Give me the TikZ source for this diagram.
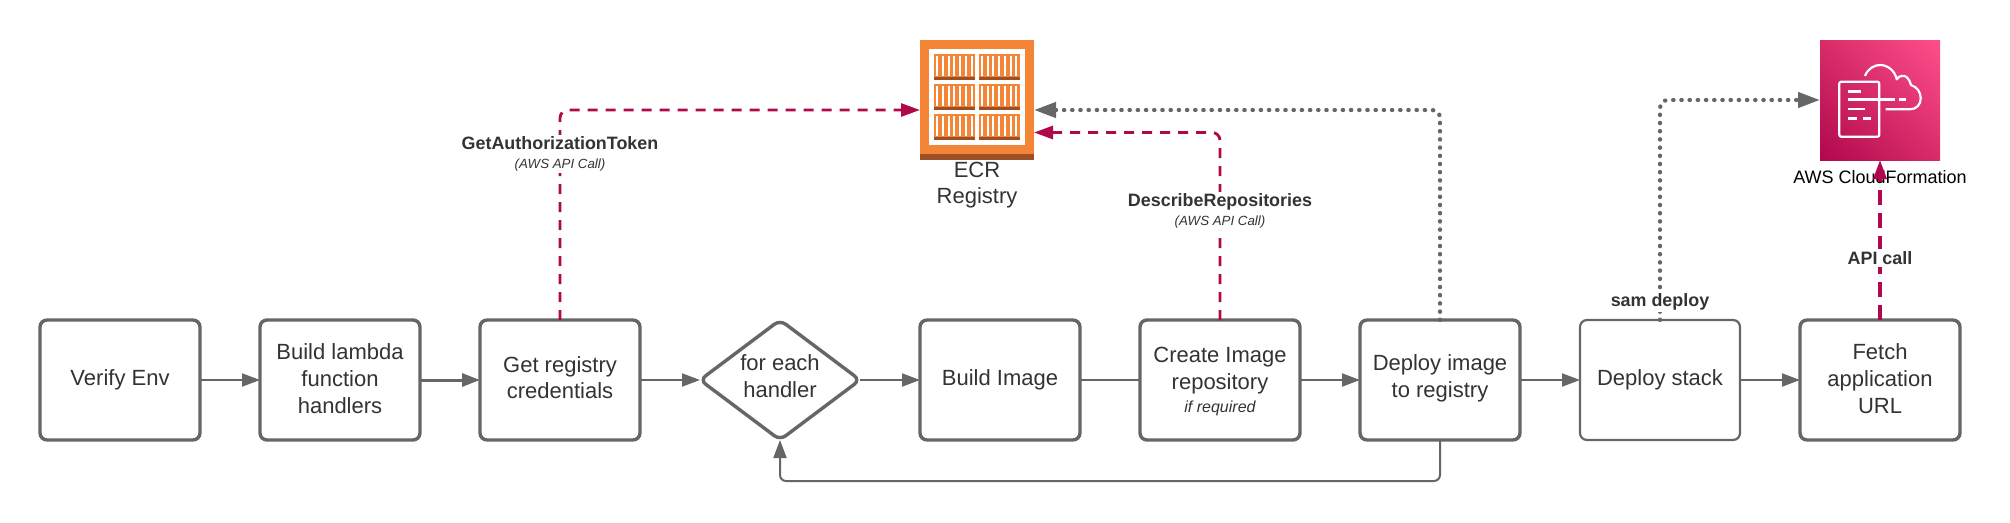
\documentclass[tikz,border=0pt]{standalone}
\usepackage{fontspec}
\setmainfont{Liberation Sans}
\usetikzlibrary{arrows.meta,shapes.geometric,shadings}
\definecolor{boxgray}{HTML}{666666}
\definecolor{inkgray}{HTML}{333333}
\definecolor{apired}{HTML}{B0084D}
\definecolor{ecrorange}{HTML}{F58536}
\definecolor{ecrbrown}{HTML}{9D5025}
\definecolor{cfdark}{HTML}{B0084D}
\definecolor{cfmid}{HTML}{D82C69}
\definecolor{cflight}{HTML}{FF4F8B}
\tikzset{
  flowbox/.style={draw=boxgray,line width=3.4pt,rounded corners=7pt,fill=white,minimum width=160pt,
    minimum height=120pt,inner sep=0pt,outer sep=0pt,align=center,text=inkgray,font=\fontsize{22}{26.7}\selectfont},
  flowdiamond/.style={flowbox,diamond,aspect=1.333,minimum width=160pt,minimum height=120pt},
  flowline/.style={draw=boxgray,line width=2pt,rounded corners=6pt},
  flowarrow/.style={flowline,-{Triangle[length=18pt,width=13pt]}},
  apiarrow/.style={draw=apired,line width=2.8pt,rounded corners=8pt,dash pattern=on 10pt off 8pt,
    -{Triangle[length=19pt,width=13pt]}},
  samearrow/.style={draw=boxgray,line width=4.2pt,rounded corners=8pt,line cap=round,dash pattern=on 0.4pt off 7.8pt,
    -{Triangle[length=22pt,width=15pt]}},
  calllabel/.style={fill=white,inner xsep=1pt,inner ysep=2pt,align=center,text=inkgray,
    font=\fontsize{17.9}{19}\selectfont\bfseries},
  iconlabel/.style={align=center,inner sep=0pt}
}
\newcommand{\callnote}[1]{{\fontsize{13.3}{19}\selectfont\itshape\mdseries #1}}
\begin{document}
\begin{tikzpicture}[x=1pt,y=-1pt]
  \useasboundingbox (0,0) rectangle (2010,522);
  % main row of steps
  \node[flowbox] (verifyenv) at (120,380) {Verify Env};
  \node[flowbox,text depth=3pt] (buildlambda) at (340,380) {Build lambda\\function\\handlers};
  \node[flowbox,text depth=5pt] (getcreds) at (560,380) {Get registry\\credentials};
  \node[flowdiamond] (eachhandler) at (780,380) {};
  \node[inner sep=0pt,align=center,text=inkgray,font=\fontsize{22}{26.7}\selectfont] (eachlabel) at (780,376) {for each\\handler};
  \node[flowbox] (buildimage) at (1000,380) {Build Image};
  \node[flowbox,text depth=0pt] (createrepo) at (1220,380) {Create Image\\repository\\[-3pt]{\fontsize{16}{19}\selectfont\itshape if required}};
  \node[flowbox,text depth=8pt] (deployimage) at (1440,380) {Deploy image\\to registry};
  \node[flowbox,line width=2.2pt] (deploystack) at (1660,380) {Deploy stack};
  \node[flowbox,text depth=3pt] (fetchurl) at (1880,380) {Fetch\\application\\URL};
  % ECR icon
  \node[fill=ecrorange,minimum width=114pt,minimum height=120pt,inner sep=0pt,outer sep=0pt] (ecr) at (977,100) {};
  \fill[ecrbrown] (920,154) rectangle (1034,160);
  \fill[white] (929,49) rectangle (1025,145);
  \foreach \y in {54,84,114}{%
    \foreach \x in {934.3,979}{%
      \fill[ecrorange] (\x,\y) rectangle ++(40.5,26);
      \fill[ecrbrown] (\x,\y+22.5) rectangle ++(40.5,3.5);
      \foreach \s in {3,8.7,14.4,20.1,25.8,31.5,37.2}{
        \fill[white] (\x+\s-1,\y+2) rectangle (\x+\s+1,\y+21.5);
      }
    }
  }
  \node[iconlabel,text=inkgray,font=\fontsize{22}{26}\selectfont] (ecrlabel) at (977,185.5) {ECR\\Registry};
  % CloudFormation icon
  \node[minimum size=120pt,inner sep=0pt,outer sep=0pt,lower left=cfdark,upper right=cflight,
    lower right=cfmid,upper left=cfmid] (cloudformation) at (1880,100) {};
  \draw[white,line width=2.2pt,rounded corners=2pt] (1879.3,90) |- (1839.3,81.7) |- (1879.3,136.7) -- (1879.3,90);
  \draw[white,line width=2.6pt] (1848,91.7) -- (1860.7,91.7)
    (1848,99.3) -- (1895,99.3) (1899.3,99.3) -- (1906,99.3)
    (1848,109) -- (1865,109)
    (1848,118.3) -- (1857.3,118.3) (1863.3,118.3) -- (1870.7,118.3);
  \draw[white,line width=2.2pt,line join=round] (1865,76) .. controls (1868,68) and (1875,65) .. (1880,65)
    .. controls (1888,65) and (1895,71) .. (1896.7,79.3)
    .. controls (1899,75) and (1905,75) .. (1907,77.5)
    .. controls (1909,79) and (1910,82) .. (1911,85)
    .. controls (1917,87) and (1920.7,92) .. (1920.7,98.3)
    .. controls (1920.7,105) and (1916,109.3) .. (1910,109.3) -- (1885.7,109.3);
  \node[iconlabel,font=\fontsize{18}{20}\selectfont] (cflabel) at (1880,177) {AWS CloudFormation};
  % flow between the steps
  \draw[flowarrow] (verifyenv) -- (buildlambda);
  \draw[flowarrow,line width=3pt] (buildlambda) -- (getcreds);
  \draw[flowarrow] (getcreds) -- (eachhandler);
  \draw[flowarrow] (eachhandler) -- (buildimage);
  \draw[flowline] (buildimage) -- (createrepo);
  \draw[flowarrow] (createrepo) -- (deployimage);
  \draw[flowarrow] (deployimage) -- (deploystack);
  \draw[flowarrow] (deploystack) -- (fetchurl);
  \coordinate (loopturn) at (1440,481);
  \draw[flowarrow] (deployimage.south) -- (loopturn) -| (eachhandler.south);
  % calls out to AWS
  \draw[apiarrow] (getcreds.north) |- ([yshift=-10pt]ecr.west);
  \draw[apiarrow] (createrepo.north) |- ([yshift=-32.5pt]ecr.east);
  \draw[samearrow] (deployimage.north) |- ([yshift=-10pt]ecr.east);
  \draw[samearrow] (deploystack.north) |- (cloudformation.west);
  \draw[apiarrow,line width=3.4pt,dash pattern=on 15pt off 8pt] (fetchurl.north) -- (cloudformation.south);
  \node[calllabel] (tokenlabel) at (560,154) {GetAuthorizationToken\\\callnote{(AWS API Call)}};
  \node[calllabel] (describelabel) at (1220,211) {DescribeRepositories\\\callnote{(AWS API Call)}};
  \node[calllabel] (samlabel) at (1660,302) {sam deploy};
  \node[calllabel] (apilabel) at (1880,258) {API call};
\end{tikzpicture}
\end{document}
